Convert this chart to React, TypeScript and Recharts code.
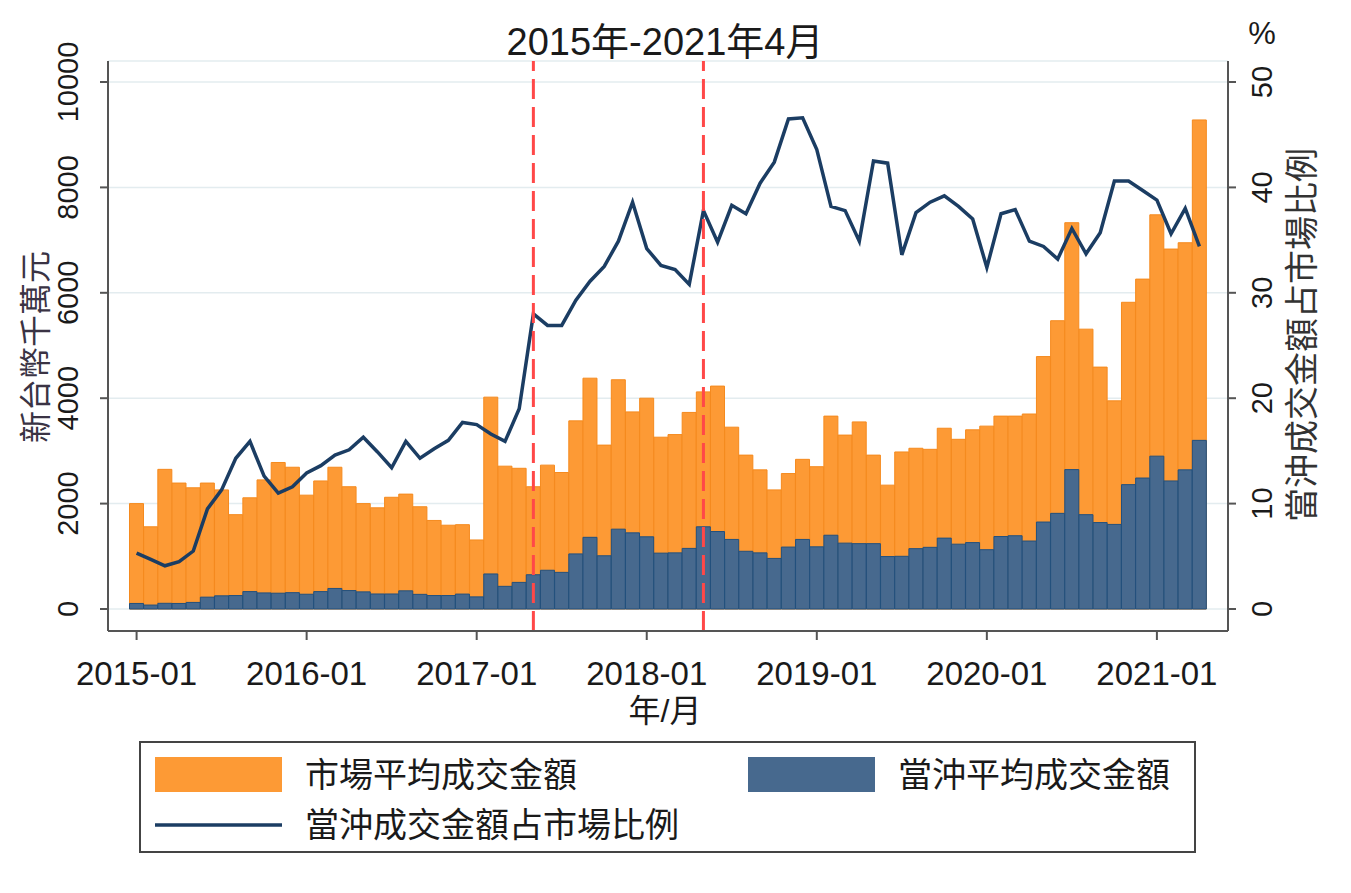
import React from "react"
import {
  ComposedChart,
  Bar,
  Line,
  XAxis,
  YAxis,
  CartesianGrid,
  ReferenceLine,
  Customized,
} from "recharts"

const FONT = "'Liberation Sans', Arial, 'Noto Sans CJK TC', sans-serif"
const INK = "#1a1a1a"
const AXIS = "#555555"
const ORANGE = "#fd9a35"
const ORANGE_EDGE = "#f58a1e"
const BLUE = "#47698e"
const BLUE_EDGE = "#22507d"
const NAVY = "#1b3d63"
const RED = "#ff4848"

// 2015-01 .. 2021-04 (monthly labels)
const months: string[] = []
for (let i = 0; i < 76; i++) {
  const yr = 2015 + Math.floor(i / 12)
  const mo = (i % 12) + 1
  months.push(`${yr}-${String(mo).padStart(2, "0")}`)
}

// 市場平均成交金額 (新台幣千萬元)
const marketAvg = [
  2000, 1560, 2650, 2390, 2300, 2390, 2260, 1790, 2110, 2450, 2780, 2690,
  2160, 2430, 2690, 2320, 2000, 1920, 2120, 2180, 1940, 1680, 1590, 1600,
  1310, 4020, 2710, 2670, 2320, 2730, 2590, 3570, 4380, 3110, 4350, 3740,
  4000, 3260, 3310, 3730, 4120, 4230, 3450, 2920, 2640, 2260, 2570, 2840,
  2700, 3660, 3300, 3550, 2920, 2350, 2980, 3050, 3030, 3430, 3220, 3400,
  3470, 3660, 3660, 3700, 4790, 5470, 7330, 5310, 4590, 3950, 5820, 6260,
  7480, 6830, 6950, 9280,
]

// 當沖平均成交金額 (新台幣千萬元)
const dayTradeAvg = [
  105, 75, 108, 105, 125, 225, 250, 255, 330, 305, 300, 310,
  280, 330, 390, 350, 325, 285, 285, 345, 278, 255, 255, 283,
  230, 665, 430, 505, 650, 735, 695, 1045, 1360, 1010, 1515, 1445,
  1370, 1060, 1065, 1150, 1560, 1470, 1320, 1095, 1065, 960, 1175, 1320,
  1180, 1400, 1250, 1240, 1240, 995, 1000, 1145, 1170, 1345, 1230, 1260,
  1125, 1375, 1390, 1290, 1650, 1815, 2645, 1790, 1640, 1605, 2360, 2485,
  2900, 2430, 2640, 3200,
]

// 當沖成交金額占市場比例 (%)
const dayTradeShare = [
  5.3, 4.7, 4.1, 4.5, 5.5, 9.5, 11.3, 14.3, 15.9, 12.6, 11.0, 11.6,
  12.9, 13.6, 14.6, 15.1, 16.3, 14.9, 13.4, 15.9, 14.3, 15.2, 16.0, 17.7,
  17.5, 16.6, 15.9, 19.0, 28.0, 26.9, 26.9, 29.3, 31.1, 32.5, 34.9, 38.6,
  34.2, 32.6, 32.2, 30.8, 37.8, 34.8, 38.3, 37.5, 40.4, 42.4, 46.5, 46.6,
  43.6, 38.2, 37.8, 34.9, 42.5, 42.3, 33.6, 37.6, 38.6, 39.2, 38.2, 37.0,
  32.4, 37.5, 37.9, 34.9, 34.4, 33.2, 36.1, 33.7, 35.7, 40.6, 40.6, 39.7,
  38.8, 35.6, 38.0, 34.4,
]

const xTicks = ["2015-01", "2016-01", "2017-01", "2018-01", "2019-01", "2020-01", "2021-01"]
const leftTicks = [0, 2000, 4000, 6000, 8000, 10000]
const rightTicks = [0, 10, 20, 30, 40, 50]
const markerMonths = ["2017-05", "2018-05"]

const rows = months.map((m, i) => ({
  month: m,
  market: marketAvg[i],
  dayTrade: dayTradeAvg[i],
  share: dayTradeShare[i],
}))

const legendItems = [
  { name: "市場平均成交金額", color: ORANGE, kind: "bar" },
  { name: "當沖平均成交金額", color: BLUE, kind: "bar" },
  { name: "當沖成交金額占市場比例", color: NAVY, kind: "line" },
]

function XTick(props: any) {
  const { x, y, payload } = props
  return (
    <text x={x} y={y + 43} textAnchor="middle" fontSize={33} fill={INK} fontFamily={FONT}>
      {payload.value}
    </text>
  )
}

function LeftTick(props: any) {
  const { x, y, payload } = props
  return (
    <text
      transform={`translate(${x - 30},${y}) rotate(-90)`}
      textAnchor="middle"
      dy="0.36em"
      fontSize={29}
      fill={INK}
      fontFamily={FONT}
    >
      {payload.value}
    </text>
  )
}

function RightTick(props: any) {
  const { x, y, payload } = props
  return (
    <text
      transform={`translate(${x + 24},${y}) rotate(-90)`}
      textAnchor="middle"
      dy="0.36em"
      fontSize={29}
      fill={INK}
      fontFamily={FONT}
    >
      {payload.value}
    </text>
  )
}

// titles, axis names and the boxed legend
function Overlay() {
  const t = { fontFamily: FONT, fill: INK }
  return (
    <g>
      <text x={665} y={55} textAnchor="middle" fontSize={38} {...t}>
        2015年-2021年4月
      </text>
      <text x={1262} y={44} textAnchor="middle" fontSize={31} {...t}>
        %
      </text>
      <text
        transform="translate(35,347) rotate(-90)"
        textAnchor="middle"
        dy="0.36em"
        fontSize={32}
        fontFamily={FONT}
        fill="#3a3344"
      >
        新台幣千萬元
      </text>
      <text
        transform="translate(1302,335) rotate(-90)"
        textAnchor="middle"
        dy="0.36em"
        fontSize={34}
        fontFamily={FONT}
        fill="#333333"
      >
        當沖成交金額占市場比例
      </text>
      <text x={665} y={722} textAnchor="middle" fontSize={32} {...t}>
        年/月
      </text>

      <rect x={140} y={742} width={1055} height={110} fill="#ffffff" stroke="#444444" strokeWidth={2} />
      {legendItems.map((it, i) => {
        const lx = i === 1 ? 748 : 155
        const ly = i === 2 ? 825 : 775
        return (
          <g key={it.name}>
            {it.kind === "bar" ? (
              <rect x={lx} y={ly - 18} width={127} height={35} fill={it.color} />
            ) : (
              <line x1={lx} x2={lx + 127} y1={ly} y2={ly} stroke={it.color} strokeWidth={3.5} />
            )}
            <text x={lx + 150} y={ly} dy="0.36em" fontSize={34} {...t}>
              {it.name}
            </text>
          </g>
        )
      })}
    </g>
  )
}

export default function App() {
  return (
    <div style={{ position: "absolute", left: 0, top: 0, width: 1351, height: 893, background: "#fff" }}>
      <ComposedChart
        width={1351}
        height={893}
        data={rows}
        margin={{ top: 61, right: 0, bottom: 162, left: 0 }}
        barGap={-14}
        barCategoryGap={0}
      >
        <CartesianGrid yAxisId="left" vertical={false} stroke="#e3ecef" strokeWidth={1.5} />
        <XAxis
          dataKey="month"
          ticks={xTicks}
          interval={0}
          height={100}
          padding={{ left: 21.5, right: 21.5 }}
          axisLine={{ stroke: AXIS, strokeWidth: 2 }}
          tickLine={{ stroke: AXIS, strokeWidth: 2 }}
          tickSize={9}
          tick={<XTick />}
        />
        <YAxis
          yAxisId="left"
          width={108}
          domain={[0, 10000]}
          ticks={leftTicks}
          padding={{ top: 21, bottom: 22 }}
          axisLine={{ stroke: AXIS, strokeWidth: 2 }}
          tickLine={{ stroke: AXIS, strokeWidth: 2 }}
          tickSize={8}
          tick={<LeftTick />}
        />
        <YAxis
          yAxisId="right"
          orientation="right"
          width={123}
          domain={[0, 50]}
          ticks={rightTicks}
          padding={{ top: 21, bottom: 22 }}
          axisLine={{ stroke: AXIS, strokeWidth: 2 }}
          tickLine={{ stroke: AXIS, strokeWidth: 2 }}
          tickSize={8}
          tick={<RightTick />}
        />
        <Bar
          yAxisId="left"
          dataKey="market"
          name="市場平均成交金額"
          barSize={14}
          fill={ORANGE}
          stroke={ORANGE_EDGE}
          strokeWidth={1}
          isAnimationActive={false}
        />
        <Bar
          yAxisId="left"
          dataKey="dayTrade"
          name="當沖平均成交金額"
          barSize={14}
          fill={BLUE}
          stroke={BLUE_EDGE}
          strokeWidth={1}
          isAnimationActive={false}
        />
        <Line
          yAxisId="right"
          type="linear"
          dataKey="share"
          name="當沖成交金額占市場比例"
          stroke={NAVY}
          strokeWidth={3.5}
          dot={false}
          isAnimationActive={false}
        />
        {markerMonths.map((m) => (
          <ReferenceLine
            key={m}
            x={m}
            yAxisId="left"
            stroke={RED}
            strokeWidth={3}
            strokeDasharray="20 8"
          />
        ))}
        <Customized component={Overlay} />
      </ComposedChart>
    </div>
  )
}
